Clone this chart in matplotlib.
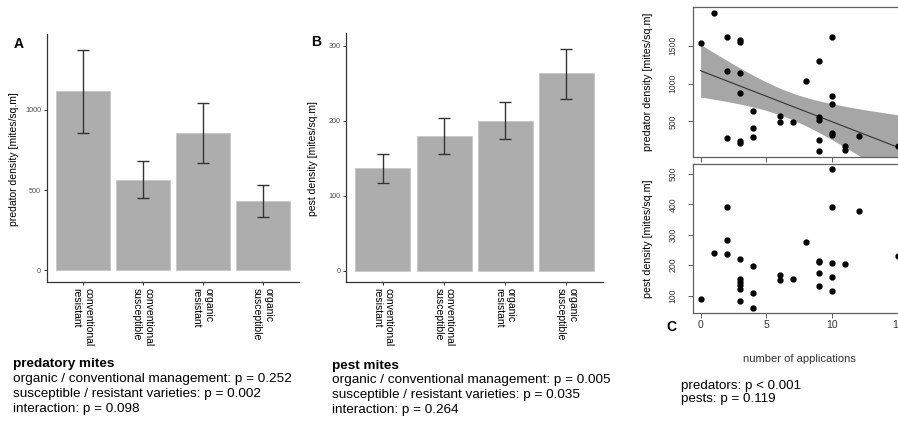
import numpy as np
import matplotlib
matplotlib.use("Agg")
import matplotlib.pyplot as plt

plt.rcParams['font.family'] = ['Liberation Sans', 'DejaVu Sans']

W, H = 898, 421

# bar panels (A: predatory mites, B: pest mites)
categories = ["conventional\nresistant", "conventional\nsusceptible",
              "organic\nresistant", "organic\nsusceptible"]
pred_mean = [1118, 564, 854, 434]
pred_lo = [857, 448, 670, 332]
pred_hi = [1373, 680, 1041, 531]
pest_mean = [137, 180, 200, 263]
pest_lo = [117, 155, 175, 229]
pest_hi = [156, 204, 225, 296]

# scatter panels (C)
pred_apps = [0, 1, 2, 2, 2, 3, 3, 3, 3, 3, 3, 4, 4, 4, 6, 6, 7, 8,
             9, 9, 9, 9, 9, 10, 10, 10, 10, 10, 11, 11, 12, 15]
pred_dens = [1530, 1932, 1619, 1170, 280, 1580, 1550, 1134, 870, 236, 210,
             632, 408, 298, 571, 496, 496, 1037,
             1293, 553, 513, 258, 104, 1610, 835, 725, 346, 316, 179, 117, 302, 179]
pest_apps = [0, 1, 2, 2, 2, 3, 3, 3, 3, 3, 3, 4, 4, 4, 6, 6, 7, 8,
             9, 9, 9, 9, 10, 10, 10, 10, 10, 11, 12, 15]
pest_dens = [89, 241, 390, 284, 236, 220, 156, 145, 134, 123, 82,
             196, 109, 60, 168, 150, 156, 276,
             215, 210, 174, 132, 515, 390, 207, 162, 114, 205, 377, 230]

T_CRIT = 2.042  # t quantile, df = 30

stats_A = ["organic / conventional management: p = 0.252",
           "susceptible / resistant varieties: p = 0.002",
           "interaction: p = 0.098"]
stats_B = ["organic / conventional management: p = 0.005",
           "susceptible / resistant varieties: p = 0.035",
           "interaction: p = 0.264"]
stats_C = ["predators: p < 0.001", "pests: p = 0.119"]

BAR = '#adadad'
DARK = '#333333'


def px(x, y):
    return x / W, 1 - y / H


def box(left, top, right, bottom):
    return [left / W, 1 - bottom / H, (right - left) / W, (bottom - top) / H]


def bar_panel(ax, mean, lo, hi, ylim, yticks):
    x = np.arange(1, len(mean) + 1)
    ax.bar(x, mean, width=0.9, color=BAR, edgecolor='#c4c4c4', linewidth=0.5, zorder=1)
    err = [np.array(mean) - np.array(lo), np.array(hi) - np.array(mean)]
    ax.errorbar(x, mean, yerr=err, fmt='none', ecolor=DARK, elinewidth=1.0,
                capsize=4, capthick=1.0, zorder=2)
    ax.set_xlim(0.4, len(mean) + 0.6)
    ax.set_ylim(*ylim)
    ax.set_yticks(yticks)
    ax.set_xticks(x)
    ax.set_xticklabels(categories, rotation=270, ha='center', va='top',
                       multialignment='left', fontsize=7.5)
    for s in ['top', 'right']:
        ax.spines[s].set_visible(False)
    for s in ['left', 'bottom']:
        ax.spines[s].set_color(DARK)
        ax.spines[s].set_linewidth(0.9)
    ax.tick_params(axis='both', direction='out', length=2.4, width=0.7, color=DARK)
    ax.tick_params(axis='y', labelsize=5.2, labelcolor='#4d4d4d', pad=1.5)
    ax.tick_params(axis='x', pad=2.2)


def scatter_panel(ax, xs, ys):
    ys = np.array(ys, dtype=float)
    r = ys.max() - ys.min()
    ax.set_ylim(ys.min() - 0.04 * r, ys.max() + 0.04 * r)
    ax.set_xlim(-0.6, 15.6)
    ax.set_xticks([0, 5, 10, 15])
    for s in ax.spines.values():
        s.set_color('#606060')
        s.set_linewidth(0.9)
    ax.tick_params(axis='both', direction='out', length=3.4, width=0.7, color='#606060')
    ax.tick_params(axis='y', labelrotation=90, labelsize=6.2, labelcolor='#3a3a3a', pad=7.5)


fig = plt.figure(figsize=(W / 100, H / 100), dpi=100)

# panel A
axA = fig.add_axes(box(46.5, 34, 298.5, 281.7))
bar_panel(axA, pred_mean, pred_lo, pred_hi, (-70, 1470), [0, 500, 1000])
fig.text(*px(14, 159), "predator density [mites/sq.m]", rotation=90,
         ha='center', va='center', fontsize=7.5)
fig.text(*px(19, 43.5), "A", fontsize=10, fontweight='bold', ha='center', va='center')

# panel B
axB = fig.add_axes(box(346.3, 33.3, 603, 281.7))
bar_panel(axB, pest_mean, pest_lo, pest_hi, (-14.7, 316.5), [0, 100, 200, 300])
fig.text(*px(313.3, 158.5), "pest density [mites/sq.m]", rotation=90,
         ha='center', va='center', fontsize=7.5)
fig.text(*px(315.7, 42), "B", fontsize=10, fontweight='bold', ha='center', va='center')

# panel C, top: predators with linear fit and confidence band
axC1 = fig.add_axes(box(692.7, 7.3, 906, 157))
xa = np.array(pred_apps, dtype=float)
ya = np.array(pred_dens, dtype=float)
slope, icpt = np.polyfit(xa, ya, 1)
resid = ya - (icpt + slope * xa)
n = len(xa)
s = np.sqrt(np.sum(resid ** 2) / (n - 2))
sxx = np.sum((xa - xa.mean()) ** 2)
xg = np.linspace(xa.min(), xa.max(), 100)
yg = icpt + slope * xg
half = T_CRIT * s * np.sqrt(1 / n + (xg - xa.mean()) ** 2 / sxx)
axC1.fill_between(xg, yg - half, yg + half, color='#a6a6a6', linewidth=0, zorder=1)
axC1.plot(xg, yg, color='#333333', lw=0.8, zorder=2)
axC1.plot(xa, ya, 'o', color='black', markersize=3.5, zorder=3)
scatter_panel(axC1, pred_apps, pred_dens)
axC1.set_yticks([500, 1000, 1500])
for lab in axC1.get_yticklabels():
    lab.set_va('center')
axC1.tick_params(axis='x', labelbottom=False)
fig.text(*px(648, 82), "predator density [mites/sq.m]", rotation=90,
         ha='center', va='center', fontsize=7.7)

# panel C, bottom: pests
axC2 = fig.add_axes(box(692.7, 163.8, 906, 313.3))
axC2.plot(pest_apps, pest_dens, 'o', color='black', markersize=3.5)
scatter_panel(axC2, pest_apps, pest_dens)
axC2.set_yticks([100, 200, 300, 400, 500])
for lab in axC2.get_yticklabels():
    lab.set_va('center')
axC2.tick_params(axis='x', labelsize=7.5, labelcolor='#333333', pad=1.5)
fig.text(*px(648, 238.5), "pest density [mites/sq.m]", rotation=90,
         ha='center', va='center', fontsize=7.7)
fig.text(*px(799.3, 359), "number of applications", ha='center', va='center',
         fontsize=8, color='#333333')
fig.text(*px(671, 327), "C", fontsize=10, fontweight='bold', ha='center', va='center')

# statistics text below the panels
fig.text(*px(13, 364), "predatory mites", fontsize=9.7, fontweight='bold', va='center')
for i, line in enumerate(stats_A):
    fig.text(*px(13, 379 + 15 * i), line, fontsize=9.7, va='center')
fig.text(*px(331.7, 365.7), "pest mites", fontsize=9.7, fontweight='bold', va='center')
for i, line in enumerate(stats_B):
    fig.text(*px(331.7, 380.3 + 14.7 * i), line, fontsize=9.7, va='center')
for i, line in enumerate(stats_C):
    fig.text(*px(680.7, 386 + 13.3 * i), line, fontsize=9.6, va='center')

fig.savefig("out.png", dpi=100, facecolor='white')
